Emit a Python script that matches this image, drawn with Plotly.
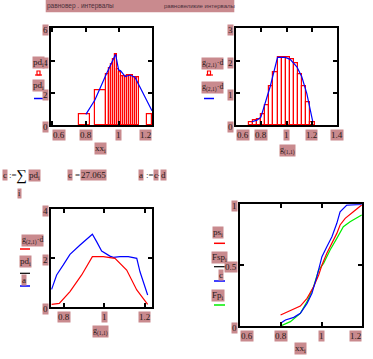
import plotly.graph_objects as go

W, H = 373, 359
PINK = "#c98a8e"
TXT = "#2a1a1a"
FONT = "Liberation Serif"

# ---------------- data ----------------
# plot 1: equiprobable intervals (bar edges, heights) + polygon
h1_left = [0.762, 0.858, 0.922, 0.942, 0.954, 0.966, 0.978, 0.990, 1.002, 1.014,
           1.026, 1.038, 1.050, 1.062, 1.074, 1.086, 1.098, 1.110, 1.168]
h1_right = [0.828, 0.922, 0.942, 0.954, 0.966, 0.978, 0.990, 1.002, 1.014, 1.026,
            1.038, 1.050, 1.062, 1.074, 1.086, 1.098, 1.110, 1.122, 1.200]
h1_height = [0.66, 2.15, 3.15, 3.52, 3.77, 4.06, 4.39, 3.45, 3.30, 3.05,
             3.00, 3.00, 3.10, 3.10, 3.10, 2.98, 2.98, 2.95, 0.66]
l1_x = [0.802, 0.856, 0.922, 0.946, 0.980, 0.998, 1.010, 1.038, 1.066, 1.096, 1.126, 1.166, 1.198]
l1_y = [0.66, 1.55, 3.10, 3.62, 4.39, 3.42, 3.36, 3.00, 3.10, 2.96, 2.38, 1.55, 0.89]

# plot 2: equal intervals
h2_left = [0.7008, 0.7334, 0.7660, 0.7986, 0.8312, 0.8638, 0.8964, 0.9290,
           0.9616, 0.9942, 1.0268, 1.0594, 1.0920, 1.1246, 1.1572, 1.1898]
h2_right = [0.7334, 0.7660, 0.7986, 0.8312, 0.8638, 0.8964, 0.9290, 0.9616,
            0.9942, 1.0268, 1.0594, 1.0920, 1.1246, 1.1572, 1.1898, 1.2224]
h2_height = [0.10, 0.14, 0.19, 0.35, 0.62, 1.21, 1.65, 2.10,
             2.10, 2.10, 2.03, 1.92, 1.58, 1.20, 0.72, 0.10]
l2_x = [0.726, 0.766, 0.797, 0.871, 0.929, 0.990, 1.029, 1.082, 1.121, 1.161, 1.208]
l2_y = [0.11, 0.16, 0.25, 1.20, 2.10, 2.10, 2.04, 1.81, 1.50, 0.98, 0.11]

# plot 3: densities
l3b_x = [0.738, 0.763, 0.796, 0.829, 0.879, 0.940, 0.961, 0.986, 1.027, 1.044, 1.077, 1.118, 1.160, 1.176, 1.214]
l3b_y = [0.73, 1.32, 1.73, 2.16, 2.54, 2.98, 2.68, 2.30, 2.09, 2.04, 2.07, 2.07, 2.00, 1.45, 0.50]
l3r_x = [0.738, 0.776, 0.829, 0.887, 0.940, 0.994, 1.052, 1.110, 1.160, 1.214]
l3r_y = [0.12, 0.16, 0.64, 1.32, 2.07, 2.07, 2.00, 1.52, 0.71, 0.12]

# plot 4: distribution functions
l4r_x = [0.799, 0.847, 0.896, 0.929, 0.961, 0.986, 1.002, 1.026, 1.051, 1.075, 1.091, 1.116, 1.156, 1.197]
l4r_y = [0.09, 0.126, 0.164, 0.227, 0.323, 0.419, 0.501, 0.597, 0.679, 0.761, 0.83, 0.885, 0.939, 0.994]
l4b_x = [0.799, 0.823, 0.864, 0.896, 0.929, 0.953, 0.977, 1.002, 1.026, 1.051, 1.075, 1.091, 1.124, 1.164, 1.197]
l4b_y = [0.022, 0.049, 0.071, 0.104, 0.186, 0.268, 0.405, 0.570, 0.652, 0.734, 0.844, 0.939, 0.994, 1.0, 1.0]
l4g_x = [0.799, 0.847, 0.896, 0.929, 0.961, 0.986, 1.010, 1.042, 1.075, 1.107, 1.140, 1.197]
l4g_y = [0.0, 0.036, 0.104, 0.20, 0.323, 0.46, 0.515, 0.625, 0.72, 0.816, 0.857, 0.912]

# tick values / labels
t1x = [0.6, 0.8, 1.0, 1.2]; t1xl = ["0.6", "0.8", "1", "1.2"]
t1y = [0, 2, 4, 6]; t1yl = ["0", "2", "4", "6"]
t2x = [0.6, 0.8, 1.0, 1.2, 1.4]; t2xl = ["0.6", "0.8", "1", "1.2", "1.4"]
t2y = [0, 1, 2, 3]; t2yl = ["0", "1", "2", "3"]
t3x = [0.8, 1.0, 1.2]; t3xl = ["0.8", "1", "1.2"]
t3y = [0, 2, 4]; t3yl = ["0", "2", "4"]
t4x = [0.6, 0.8, 1.0, 1.2]; t4xl = ["0.6", "0.8", "1", "1.2"]
t4y = [0, 0.5, 1]; t4yl = ["0", "0.5", "1"]

# ---------------- figure ----------------
fig = go.Figure()

def bars(left, right, height, xa, ya):
    fig.add_trace(go.Bar(
        x=[(l + r) / 2 for l, r in zip(left, right)],
        width=[r - l for l, r in zip(left, right)],
        y=height, xaxis=xa, yaxis=ya,
        marker=dict(color="rgba(0,0,0,0)", line=dict(color="#ff0000", width=1.2)),
        showlegend=False, hoverinfo="skip"))

def line(x, y, color, xa, ya):
    fig.add_trace(go.Scatter(x=x, y=y, mode="lines", xaxis=xa, yaxis=ya,
                             line=dict(color=color, width=1.2), showlegend=False,
                             hoverinfo="skip"))

bars(h1_left, h1_right, h1_height, "x", "y")
line(l1_x, l1_y, "#0000ff", "x", "y")
bars(h2_left, h2_right, h2_height, "x2", "y2")
line(l2_x, l2_y, "#0000ff", "x2", "y2")
line(l3b_x, l3b_y, "#0000ff", "x3", "y3")
line(l3r_x, l3r_y, "#ff0000", "x3", "y3")
line(l4g_x, l4g_y, "#00ee00", "x4", "y4")
line(l4r_x, l4r_y, "#ff0000", "x4", "y4")
line(l4b_x, l4b_y, "#0000ff", "x4", "y4")

def px_dom(a, b, axis):
    if axis == "x":
        return [a / W, b / W]
    return [1 - b / H, 1 - a / H]

def ax(domain, rng, tv, anchor):
    return dict(domain=domain, range=rng, tickvals=tv, showticklabels=False,
                ticks="inside", ticklen=4, tickwidth=1.5, tickcolor="black",
                showline=True, linecolor="black", linewidth=2, mirror="ticks",
                showgrid=False, zeroline=False, anchor=anchor, fixedrange=True)

layout_axes = dict(
    xaxis=ax(px_dom(51, 152.3, "x"), [0.593, 1.2], t1x, "y"),
    yaxis=ax(px_dom(28.3, 125, "y"), [0, 6], t1y, "x"),
    xaxis2=ax(px_dom(236, 337, "x"), [0.6, 1.4], t2x, "y2"),
    yaxis2=ax(px_dom(28.3, 125.3, "y"), [0, 3], t2y, "x2"),
    xaxis3=ax(px_dom(51, 152.3, "x"), [0.735, 1.237], t3x, "y3"),
    yaxis3=ax(px_dom(209.3, 307.3, "y"), [0, 4], t3y, "x3"),
    xaxis4=ax(px_dom(240, 362.3, "x"), [0.6, 1.2], t4x, "y4"),
    yaxis4=ax(px_dom(204.3, 326, "y"), [0, 1], t4y, "x4"),
)

ann = []
shapes = []

def tick_labels(sfx, xv, xl, yv, yl, xanch):
    for v, s, a in zip(xv, xl, xanch):
        ann.append(dict(x=v, y=0, xref="x" + sfx, yref="y" + sfx + " domain",
                        text=s, showarrow=False, xanchor=a, yanchor="top", yshift=-4,
                        bgcolor=PINK, borderpad=0,
                        font=dict(family=FONT, size=9, color=TXT)))
    for v, s in zip(yv, yl):
        ann.append(dict(x=0, y=v, xref="x" + sfx + " domain", yref="y" + sfx,
                        text=s, showarrow=False, xanchor="right", yanchor="middle",
                        xshift=-2, yshift=-2, bgcolor=PINK, borderpad=0,
                        font=dict(family=FONT, size=9, color=TXT)))

tick_labels("", t1x, t1xl, t1y, t1yl, ["left", "center", "center", "right"])
tick_labels("2", t2x, t2xl, t2y, t2yl, ["left", "center", "center", "center", "center"])
tick_labels("3", t3x, t3xl, t3y, t3yl, ["center", "center", "center"])
tick_labels("4", t4x, t4xl, t4y, t4yl, ["left", "center", "center", "right"])

def txt(px, py, s, bg=PINK, size=9, anchor="center", color=TXT, family=FONT):
    ann.append(dict(x=px / W, y=1 - py / H, xref="paper", yref="paper", text=s,
                    showarrow=False, xanchor=anchor, yanchor="middle",
                    bgcolor=bg, borderpad=0, font=dict(family=family, size=size, color=color)))

def seg(x0, y0, x1, y1, color, width=1.5):
    shapes.append(dict(type="line", xref="paper", yref="paper",
                       x0=x0 / W, x1=x1 / W, y0=1 - y0 / H, y1=1 - y1 / H,
                       line=dict(color=color, width=width)))

# header bar
shapes.append(dict(type="rect", xref="paper", yref="paper", x0=45.7 / W, x1=234.3 / W,
                   y0=1 - 12.3 / H, y1=1.0, fillcolor=PINK, line=dict(width=0), layer="below"))
txt(46, 6, "равновер . интервалы", bg="rgba(0,0,0,0)", size=6.5, anchor="left",
    color="#4a2f3a", family="Liberation Sans")
txt(163, 6, "равновеликие интервалы", bg="rgba(0,0,0,0)", size=6, anchor="left",
    color="#4a2f3a", family="Liberation Sans")

# plot 1 legend / title
txt(38, 62, "pd<sub>i</sub>")
shapes.append(dict(type="rect", xref="paper", yref="paper", x0=37 / W, x1=40 / W,
                   y0=1 - 75 / H, y1=1 - 71 / H, line=dict(color="#ff0000", width=1.2)))
seg(35, 75, 42, 75, "#ff0000", 1.2)
txt(38, 86, "pd<sub>i</sub>")
seg(34, 98.5, 43.5, 98.5, "#0000ff")
txt(100, 148, "xx<sub>i</sub>")

# plot 2 legend / title
txt(212, 64, "g<sub>(2,1)</sub>·d", size=8)
shapes.append(dict(type="rect", xref="paper", yref="paper", x0=207.5 / W, x1=210.5 / W,
                   y0=1 - 75 / H, y1=1 - 71 / H, line=dict(color="#ff0000", width=1.2)))
seg(206, 75, 213, 75, "#ff0000", 1.2)
txt(212, 88, "g<sub>(2,1)</sub>·d", size=8)
seg(204, 98.5, 214, 98.5, "#0000ff")
txt(287, 150, "g<sub>(1,1)</sub>", size=8)

# plot 3 legend / title
txt(32, 240, "g<sub>(2,1)</sub>·d", size=8)
seg(20, 249, 30, 249, "#ff0000")
txt(25, 261, "pd<sub>i</sub>")
seg(20, 273.3, 30, 273.3, "black", 1.2)
txt(24, 280, "a")
seg(20, 286, 30, 286, "#0000ff")
txt(100, 331, "g<sub>(1,1)</sub>", size=8)

# plot 4 legend / title
txt(218, 232, "ps<sub>i</sub>")
seg(214, 243.3, 225, 243.3, "#ff0000")
txt(220, 257, "Fsp<sub>i</sub>")
seg(214, 266.7, 225, 266.7, "black", 1.2)
txt(221, 275, "c")
seg(214, 281, 225, 281, "#0000ff")
txt(218, 295, "Fp<sub>i</sub>")
seg(214, 305, 225, 305, "#00ee00")
txt(300, 348, "xx<sub>i</sub>")

# formula row
txt(2, 175, "c", anchor="left")
txt(8, 175, ":=", bg="rgba(0,0,0,0)", anchor="left")
txt(21, 175, "∑", bg="rgba(0,0,0,0)", size=15, color="black")
txt(28, 175, "pd<sub>i</sub>", anchor="left")
txt(19, 194, "i", size=8)
txt(67, 175, "c", anchor="left")
txt(74, 175, "=", bg="rgba(0,0,0,0)", anchor="left")
txt(80, 175, "27.065", anchor="left")
txt(138, 175, "a", anchor="left")
txt(145, 175, ":=", bg="rgba(0,0,0,0)", anchor="left")
txt(153, 175, "c", anchor="left")
txt(158, 175, "·", bg="rgba(0,0,0,0)")
txt(160, 175, "d", anchor="left")

fig.update_layout(
    width=W, height=H, margin=dict(l=0, r=0, t=0, b=0),
    paper_bgcolor="white", plot_bgcolor="white",
    barmode="overlay", bargap=0,
    annotations=ann, shapes=shapes, **layout_axes)

fig.write_html("out.html", config={"displayModeBar": False},
               post_script="document.body.style.margin='0';document.body.style.overflow='hidden';")
